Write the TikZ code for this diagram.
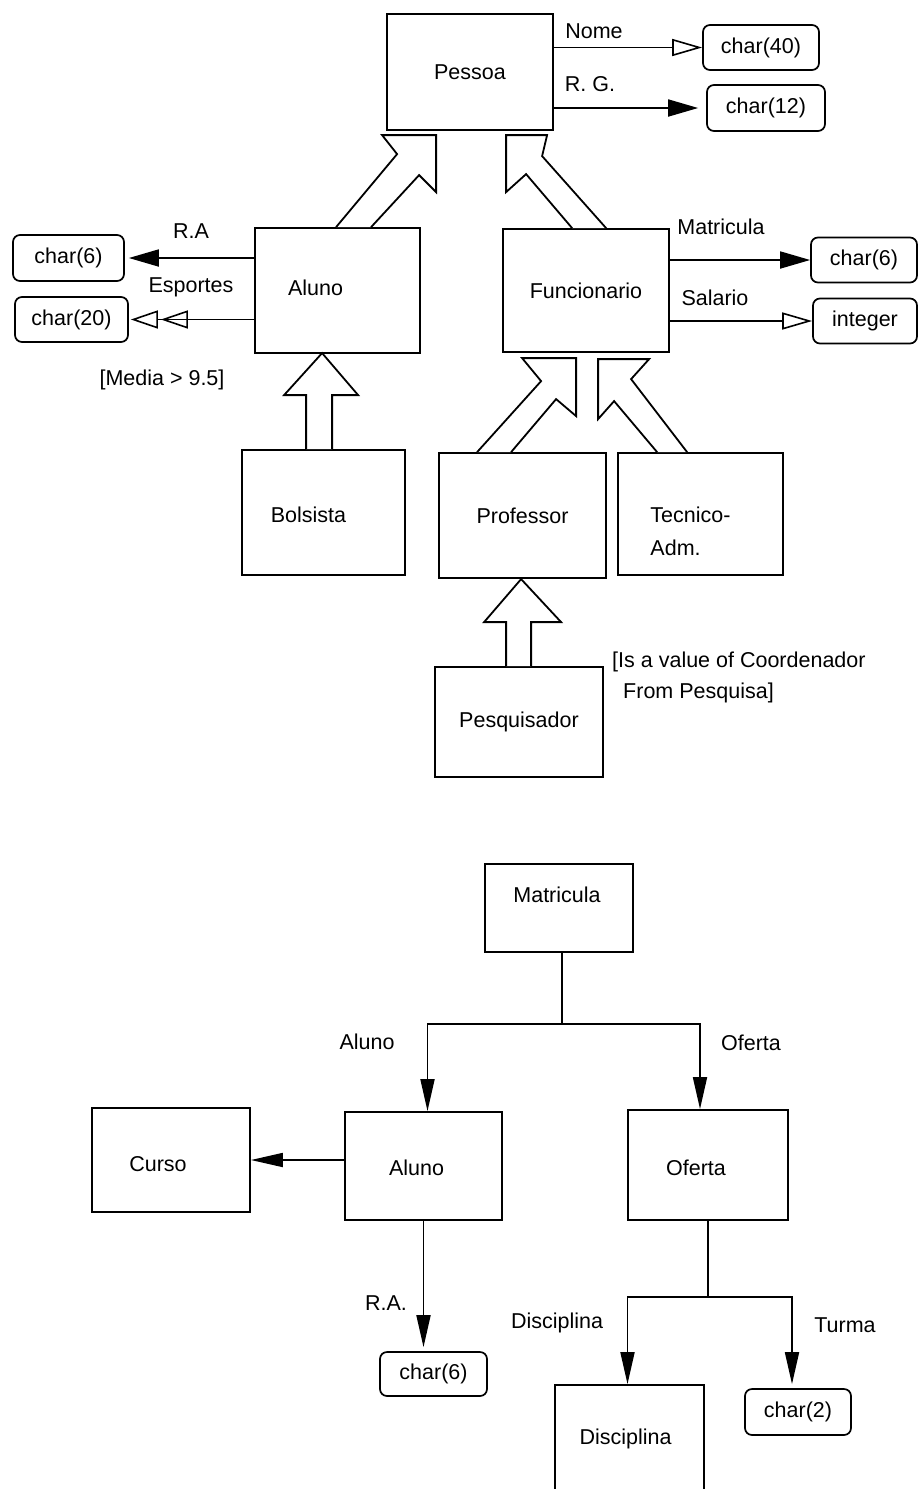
\documentclass[tikz,border=0pt]{standalone}
\usepackage{fontspec}
\setmainfont{Liberation Sans}
\usetikzlibrary{arrows.meta,calc}

\begin{document}
\begin{tikzpicture}[x=1pt,y=-1pt,
  every node/.style={font=\fontsize{21.5}{33}\selectfont},
  ent/.style={draw,line width=1.8pt,rectangle,inner sep=0pt},
  typ/.style={draw,line width=1.7pt,rounded corners=7pt,inner sep=0pt},
  lbl/.style={inner sep=0pt},
  link/.style={line width=1.8pt},
  fillarr/.style={link,-{Triangle[length=30pt,width=17pt]}},
  openarr/.style={link,-{Triangle[open,length=30pt,width=17pt,line width=1.6pt]}},
  dblopen/.style={link,-{Triangle[open,length=27pt,width=18pt,line width=1.6pt,sep=3pt]Triangle[open,length=27pt,width=18pt,line width=1.6pt]}},
  downarr/.style={link,-{Triangle[length=32pt,width=14pt]}},
  isa/.style={line width=1.8pt,fill=white,line join=miter},
]
\useasboundingbox (0,0) rectangle (918,1489);

% ---------------- generalisation hierarchy ----------------
\node[ent,minimum width=166pt,minimum height=116pt] (pessoa) at (470,72) {Pessoa};
\node[ent,minimum width=165pt,minimum height=125pt] (aluno) at (337.5,290.5) {};
\node[lbl] (alunoT) at ($(aluno.center)+(-22,-3)$) {Aluno};
\node[ent,minimum width=166pt,minimum height=123pt] (func) at (586,290.5) {Funcionario};
\node[ent,minimum width=163pt,minimum height=125pt] (bol) at (323.5,512.5) {};
\node[lbl] (bolT) at ($(bol.center)+(-15,2)$) {Bolsista};
\node[ent,minimum width=167pt,minimum height=125pt] (prof) at (522.5,515.5) {Professor};
\node[ent,minimum width=165pt,minimum height=122pt] (tec) at (700.5,514) {};
\node[lbl,align=left] (tecT) at ($(tec.center)+(-10,17)$) {Tecnico-\\Adm.};
\node[ent,minimum width=168pt,minimum height=110pt] (pesq) at (519,722) {Pesquisador};

% attribute types
\node[typ,minimum width=116pt,minimum height=45pt] (c40) at (761,47.5) {char(40)};
\node[typ,minimum width=118pt,minimum height=46pt] (c12) at (766,108) {char(12)};
\node[typ,minimum width=111pt,minimum height=46pt] (c6a) at (68.5,258) {char(6)};
\node[typ,minimum width=113pt,minimum height=45pt] (c20) at (71.5,319.5) {char(20)};
\node[typ,minimum width=106pt,minimum height=45pt] (c6r) at (864,260) {char(6)};
\node[typ,minimum width=104pt,minimum height=45pt] (int) at (865,321) {integer};

% attribute links
\draw[openarr] (pessoa.east |- c40) -- (c40.west);
\draw[fillarr,shorten >=8pt] (pessoa.east |- c12) -- (c12.west);
\draw[fillarr,shorten >=4pt] (aluno.west |- c6a) -- (c6a.east);
\draw[dblopen,shorten >=2pt] (aluno.west |- c20) -- (c20.east);
\draw[fillarr] (func.east |- c6r) -- (c6r.west);
\draw[openarr] (func.east |- int) -- (int.west);

\node[lbl] (lNome) at (594,31) {Nome};
\node[lbl] (lRG) at (590,84) {R. G.};
\node[lbl] (lRA) at (191,231) {R.A};
\node[lbl] (lEsp) at (191,287) {Esportes};
\node[lbl] (lMat) at (721,227) {Matricula};
\node[lbl] (lSal) at (715,298) {Salario};
\node[lbl] (lMedia) at (162,380) {[Media > 9.5]};
\node[lbl,anchor=west] (lIs1) at (612,662) {[Is a value of Coordenador};
\node[lbl,anchor=west] (lIs2) at (623,693) {From Pesquisa]};

% hollow is-a arrows
\draw[isa] ($(aluno.north west)+(82,0)$) -- ++(61,-73) -- ++(-15,-19) -- ++(54,0)
  -- ++(0,57) -- ++(-17,-17) -- ++(-48,52);
\draw[isa] ($(func.north west)+(70,0)$) -- ++(-46,-54) -- ++(-20,18) -- ++(0,-57)
  -- ++(41,0) -- ++(-5,21) -- ++(64,72);
\draw[isa] ($(bol.north west)+(65,0)$) -- ++(0,-54) -- ++(-22,0) -- ++(38,-42)
  -- ++(36,42) -- ++(-26,0) -- ++(0,54);
\draw[isa] ($(prof.north west)+(39,0)$) -- ++(64,-71) -- ++(-19,-23) -- ++(54,0)
  -- ++(0,58) -- ++(-20,-17) -- ++(-45,53);
\draw[isa] ($(tec.north west)+(70,0)$) -- ++(-56,-73) -- ++(18,-20) -- ++(-51,0)
  -- ++(0,60) -- ++(16,-18) -- ++(43,51);
\draw[isa] ($(pesq.north west)+(72,0)$) -- ++(0,-44) -- ++(-22,0) -- ++(37,-43)
  -- ++(40,43) -- ++(-30,0) -- ++(0,44);

% ---------------- aggregation tree ----------------
\node[ent,minimum width=148pt,minimum height=88pt] (matr) at (559,908) {};
\node[lbl] (matrT) at ($(matr.center)+(-2,-13)$) {Matricula};
\node[ent,minimum width=158pt,minimum height=104pt] (curso) at (171,1160) {};
\node[lbl] (cursoT) at ($(curso.center)+(-13,4)$) {Curso};
\node[ent,minimum width=157pt,minimum height=108pt] (alu2) at (423.5,1166) {};
\node[lbl] (alu2T) at ($(alu2.center)+(-7,2)$) {Aluno};
\node[ent,minimum width=160pt,minimum height=110pt] (ofe) at (708,1165) {};
\node[lbl] (ofeT) at ($(ofe.center)+(-12,3)$) {Oferta};
\node[ent,minimum width=149pt,minimum height=112pt] (disc) at (629.5,1441) {};
\node[lbl] (discT) at ($(disc.center)+(-4,-2)$) {Disciplina};
\node[typ,minimum width=107pt,minimum height=44pt] (c6b) at (433.5,1374) {char(6)};
\node[typ,minimum width=106pt,minimum height=46pt] (c2) at (798,1412) {char(2)};

\draw[link] ([xshift=3pt]matr.south) -- ++(0,71) coordinate (mj);
\draw[downarr] (mj) -| ([xshift=4pt]alu2.north);
\draw[downarr] (mj) -| ([xshift=-8pt]ofe.north);
\draw[downarr] (alu2.west |- curso.east) -- (curso.east);
\draw[downarr,shorten >=4pt] (alu2.south) -- (alu2.south |- c6b.north);
\draw[link] (ofe.south) -- ++(0,76) coordinate (oj);
\draw[downarr] (oj) -| ([xshift=-2pt]disc.north);
\draw[downarr,shorten >=4pt] (oj) -| ([xshift=-6pt]c2.north);

\node[lbl] (lAluno) at (367,1042) {Aluno};
\node[lbl] (lOferta) at (751,1043) {Oferta};
\node[lbl] (lRA2) at (386,1303) {R.A.};
\node[lbl] (lDisc) at (557,1323) {Disciplina};
\node[lbl] (lTurma) at (845,1325) {Turma};
\end{tikzpicture}
\end{document}
